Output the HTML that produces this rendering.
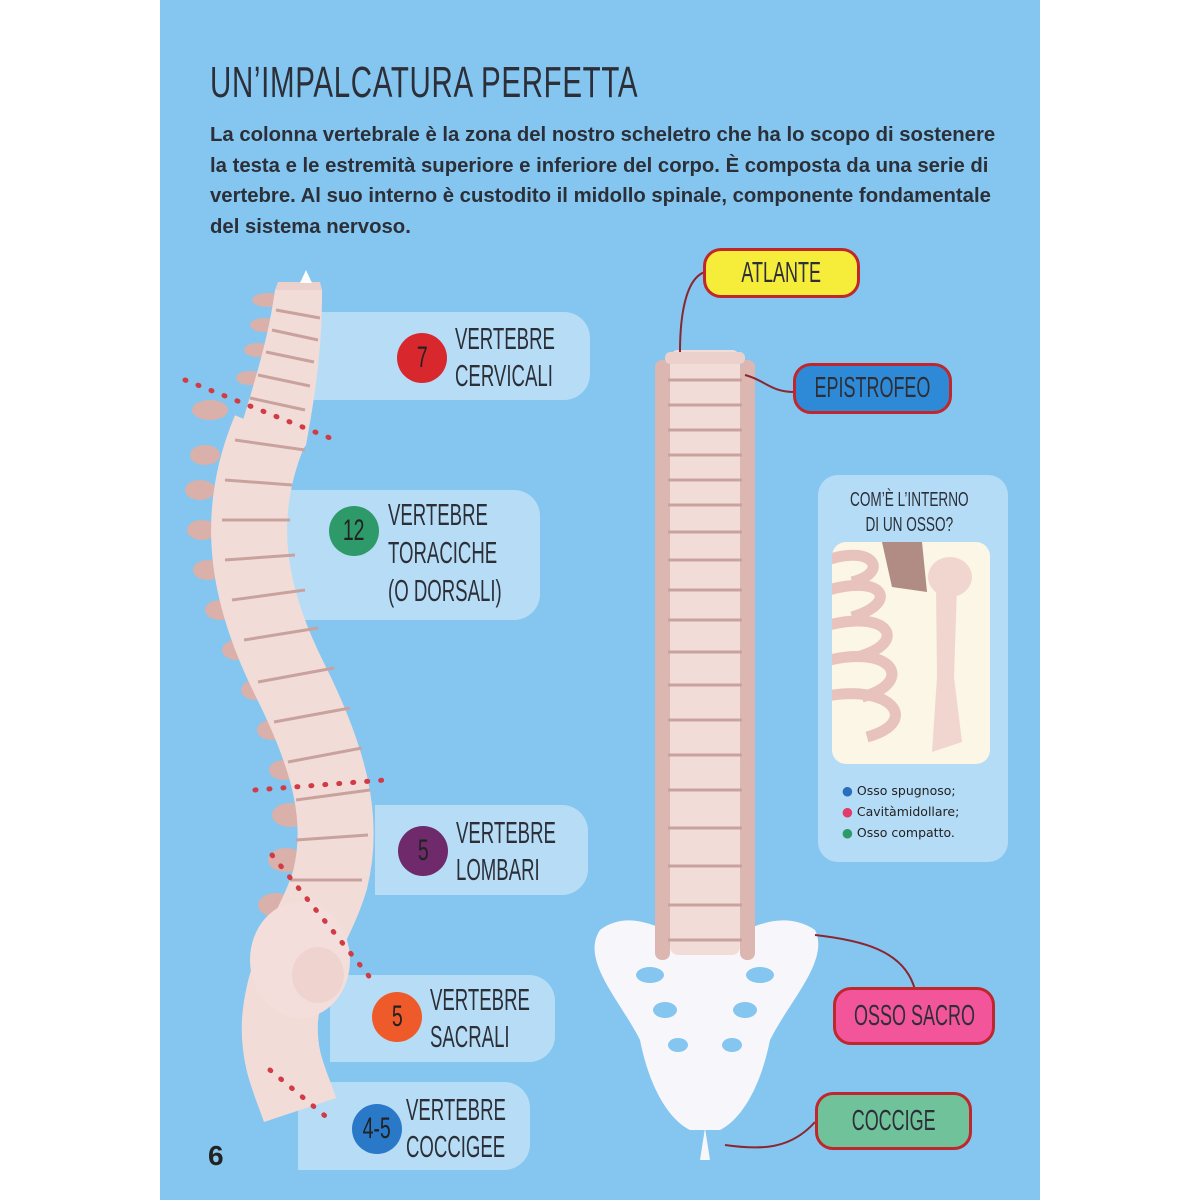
<!DOCTYPE html>
<html><head><meta charset="utf-8"><style>
body{margin:0;width:1200px;height:1200px;background:#fff;position:relative;overflow:hidden;font-family:"Liberation Sans",sans-serif}
.pg{position:absolute;left:160px;top:0;width:880px;height:1200px;background:#84c6ef}
.t{position:absolute;color:#2c2f38;white-space:nowrap;transform-origin:0 0}
.n{font-size:31px;line-height:37px;transform:scaleX(.6)}
.box{position:absolute;background:rgba(225,240,252,.55);border-radius:0 26px 26px 0}
.c{position:absolute;border-radius:50%;color:#222;font-size:30px;display:flex;justify-content:center;align-items:center;white-space:nowrap}
.c span{display:inline-block;flex:none;transform:scaleX(.65)}
.lab{position:absolute;border:3px solid #c0272d;border-radius:18px;font-size:29px;color:#2c2f38;box-sizing:border-box;white-space:nowrap;display:flex;justify-content:center;align-items:center}
.lab span{display:inline-block;flex:none;transform:scaleX(.62)}
</style></head><body>
<div class="pg"></div>
<div class="t" style="left:210px;top:58px;font-size:44px;transform:scaleX(.67);letter-spacing:1px">UN’IMPALCATURA PERFETTA</div>
<div class="t" style="left:210px;top:120px;font-size:20px;font-weight:bold;line-height:30.5px;transform:scaleX(1.015)">La colonna vertebrale è la zona del nostro scheletro che ha lo scopo di sostenere<br>la testa e le estremità superiore e inferiore del corpo. È composta da una serie di<br>vertebre. Al suo interno è custodito il midollo spinale, componente fondamentale<br>del sistema nervoso.</div>

<div class="box" style="left:300px;top:312px;width:290px;height:88px"></div>
<div class="box" style="left:270px;top:490px;width:270px;height:130px"></div>
<div class="box" style="left:375px;top:805px;width:213px;height:90px"></div>
<div class="box" style="left:330px;top:975px;width:225px;height:87px"></div>
<div class="box" style="left:298px;top:1082px;width:232px;height:88px"></div>

<svg style="position:absolute;left:0;top:0" width="1200" height="1200">
<g fill="#d9b0aa">
<ellipse cx="268" cy="300" rx="16" ry="7"/><ellipse cx="264" cy="325" rx="14" ry="7"/><ellipse cx="258" cy="350" rx="14" ry="7"/><ellipse cx="250" cy="378" rx="14" ry="7"/>
<ellipse cx="210" cy="410" rx="18" ry="10"/><ellipse cx="205" cy="455" rx="15" ry="10"/><ellipse cx="200" cy="490" rx="15" ry="10"/><ellipse cx="202" cy="530" rx="15" ry="10"/><ellipse cx="208" cy="570" rx="15" ry="10"/><ellipse cx="220" cy="610" rx="15" ry="10"/><ellipse cx="237" cy="650" rx="15" ry="10"/><ellipse cx="256" cy="690" rx="15" ry="10"/><ellipse cx="272" cy="730" rx="15" ry="10"/><ellipse cx="284" cy="770" rx="15" ry="10"/><ellipse cx="290" cy="815" rx="18" ry="12"/><ellipse cx="286" cy="860" rx="18" ry="12"/><ellipse cx="276" cy="905" rx="18" ry="12"/>
</g>
<path d="M275 290 C268 340 255 380 240 430 C235 450 300 460 306 445 C318 380 322 340 322 290 Z" fill="#f2dcd8"/>
<path d="M275 290 L322 290 L320 282 L278 282Z" fill="#ecd0cb"/>
<path d="M270 430 C232 520 250 600 290 680 C330 760 345 820 330 880 C315 930 285 960 280 1020 C278 1060 290 1080 300 1110" fill="none" stroke="#f2dcd8" stroke-width="76"/>
<ellipse cx="300" cy="960" rx="50" ry="58" fill="#f3dedb"/>
<ellipse cx="318" cy="975" rx="26" ry="28" fill="#efd3cf"/>
<g stroke="#c9a29e" stroke-width="3">
<line x1="276" y1="310" x2="320" y2="318"/><line x1="272" y1="330" x2="318" y2="340"/><line x1="266" y1="352" x2="314" y2="362"/><line x1="258" y1="375" x2="310" y2="386"/><line x1="250" y1="398" x2="305" y2="410"/>
<line x1="235" y1="440" x2="305" y2="450"/><line x1="225" y1="480" x2="292" y2="485"/><line x1="222" y1="520" x2="290" y2="520"/><line x1="225" y1="560" x2="295" y2="555"/><line x1="232" y1="600" x2="305" y2="590"/><line x1="244" y1="640" x2="318" y2="628"/><line x1="258" y1="682" x2="334" y2="668"/><line x1="274" y1="722" x2="350" y2="708"/><line x1="288" y1="762" x2="362" y2="748"/><line x1="296" y1="800" x2="370" y2="790"/><line x1="296" y1="840" x2="368" y2="835"/><line x1="290" y1="880" x2="362" y2="880"/>
</g>
<g stroke="#d23a45" stroke-width="5" stroke-dasharray="1 13" stroke-linecap="round" fill="none">
<line x1="185" y1="380" x2="330" y2="438"/><line x1="255" y1="790" x2="385" y2="780"/><line x1="272" y1="855" x2="372" y2="980"/><line x1="270" y1="1070" x2="330" y2="1120"/>
</g>
<path d="M306 270 L312 283 L300 283 Z" fill="#fff"/>

<path d="M600 930 C640 900 690 950 705 950 C720 950 770 900 815 930 C830 960 790 1000 770 1040 C760 1090 740 1120 720 1130 L690 1130 C670 1120 650 1090 640 1040 C620 1000 580 960 600 930Z" fill="#f7f7fb"/>
<g fill="#84c6ef"><ellipse cx="650" cy="975" rx="14" ry="8"/><ellipse cx="760" cy="975" rx="14" ry="8"/><ellipse cx="665" cy="1010" rx="12" ry="8"/><ellipse cx="745" cy="1010" rx="12" ry="8"/><ellipse cx="678" cy="1045" rx="10" ry="7"/><ellipse cx="732" cy="1045" rx="10" ry="7"/></g>
<rect x="670" y="350" width="70" height="605" rx="8" fill="#f2dcd8"/>
<g fill="#dcb6b1">
<rect x="655" y="360" width="15" height="600" rx="7"/><rect x="740" y="360" width="15" height="600" rx="7"/>
</g>
<rect x="665" y="352" width="80" height="12" rx="5" fill="#ecd0cb"/>
<g stroke="#c9a29e" stroke-width="3">
<line x1="668" y1="380" x2="742" y2="380"/><line x1="668" y1="405" x2="742" y2="405"/><line x1="668" y1="430" x2="742" y2="430"/><line x1="668" y1="455" x2="742" y2="455"/><line x1="668" y1="480" x2="742" y2="480"/><line x1="668" y1="505" x2="742" y2="505"/><line x1="668" y1="532" x2="742" y2="532"/><line x1="668" y1="560" x2="742" y2="560"/><line x1="668" y1="590" x2="742" y2="590"/><line x1="668" y1="620" x2="742" y2="620"/><line x1="668" y1="652" x2="742" y2="652"/><line x1="668" y1="685" x2="742" y2="685"/><line x1="668" y1="720" x2="742" y2="720"/><line x1="668" y1="755" x2="742" y2="755"/><line x1="668" y1="790" x2="742" y2="790"/><line x1="668" y1="828" x2="742" y2="828"/><line x1="668" y1="866" x2="742" y2="866"/><line x1="668" y1="905" x2="742" y2="905"/><line x1="668" y1="940" x2="742" y2="940"/>
</g>
<path d="M705 1128 L700 1160 L710 1160 Z" fill="#f7f7fb"/>
<g fill="none" stroke="#8a2630" stroke-width="2">
<path d="M705 272 C680 280 680 340 680 352"/><path d="M745 375 C765 380 770 392 795 392"/>
<path d="M815 935 C860 940 905 950 915 990"/><path d="M725 1145 C760 1150 790 1150 815 1122"/>
</g>
</svg>

<div class="c" style="left:397px;top:333px;width:50px;height:50px;background:#d8282e"><span>7</span></div>
<div class="t n" style="left:455px;top:320px">VERTEBRE<br>CERVICALI</div>
<div class="c" style="left:329px;top:506px;width:50px;height:50px;background:#2e9a6a"><span>12</span></div>
<div class="t n" style="left:388px;top:496px;line-height:38px">VERTEBRE<br>TORACICHE<br>(O DORSALI)</div>
<div class="c" style="left:398px;top:826px;width:50px;height:50px;background:#6e2a6b"><span>5</span></div>
<div class="t n" style="left:456px;top:814px">VERTEBRE<br>LOMBARI</div>
<div class="c" style="left:372px;top:992px;width:50px;height:50px;background:#ef5a2a"><span>5</span></div>
<div class="t n" style="left:430px;top:981px">VERTEBRE<br>SACRALI</div>
<div class="c" style="left:352px;top:1104px;width:50px;height:50px;background:#2a78c8"><span>4-5</span></div>
<div class="t n" style="left:406px;top:1091px">VERTEBRE<br>COCCIGEE</div>

<div class="lab" style="left:703px;top:248px;width:157px;height:50px;background:#f6ec3a"><span>ATLANTE</span></div>
<div class="lab" style="left:793px;top:363px;width:159px;height:51px;background:#2e8ad6"><span>EPISTROFEO</span></div>
<div class="lab" style="left:833px;top:987px;width:162px;height:58px;background:#f2559a"><span>OSSO SACRO</span></div>
<div class="lab" style="left:815px;top:1092px;width:157px;height:58px;background:#6fc29a"><span>COCCIGE</span></div>

<div style="position:absolute;left:818px;top:475px;width:190px;height:387px;background:#b5dcf6;border-radius:20px"></div>
<div class="t" style="left:850px;top:488px;font-size:20px;line-height:25px;text-align:center;transform:scaleX(.68)">COM’È L’INTERNO<br>DI UN OSSO?</div>
<div style="position:absolute;left:832px;top:542px;width:158px;height:222px;background:#fbf6e6;border-radius:14px;overflow:hidden">
<svg width="158" height="222"><g fill="none" stroke="#e8c2bc" stroke-width="11">
<path d="M-10 20 C40 0 60 30 20 40"/><path d="M-10 50 C50 30 70 60 20 75"/><path d="M-10 85 C55 65 80 100 25 115"/><path d="M-10 120 C60 100 85 140 30 155"/><path d="M-10 155 C60 140 90 180 35 195"/></g>
<path d="M50 0 L90 0 L95 50 L60 45Z" fill="#b08c84"/>
<ellipse cx="118" cy="35" rx="22" ry="20" fill="#f0d6cf"/>
<path d="M104 45 L125 45 L122 135 L130 200 L100 210 L105 135Z" fill="#f0d6cf"/>
</svg></div>
<div style="position:absolute;left:842px;top:780px;font-family:'DejaVu Sans',sans-serif;font-size:12.5px;line-height:21px;color:#222">
<span style="color:#2a6fbd">●</span> Osso spugnoso;<br><span style="color:#e23a6a">●</span> Cavitàmidollare;<br><span style="color:#2e9a6a">●</span> Osso compatto.</div>

<div style="position:absolute;left:208px;top:1140px;font-size:28px;font-weight:bold;color:#222">6</div>
</body></html>
